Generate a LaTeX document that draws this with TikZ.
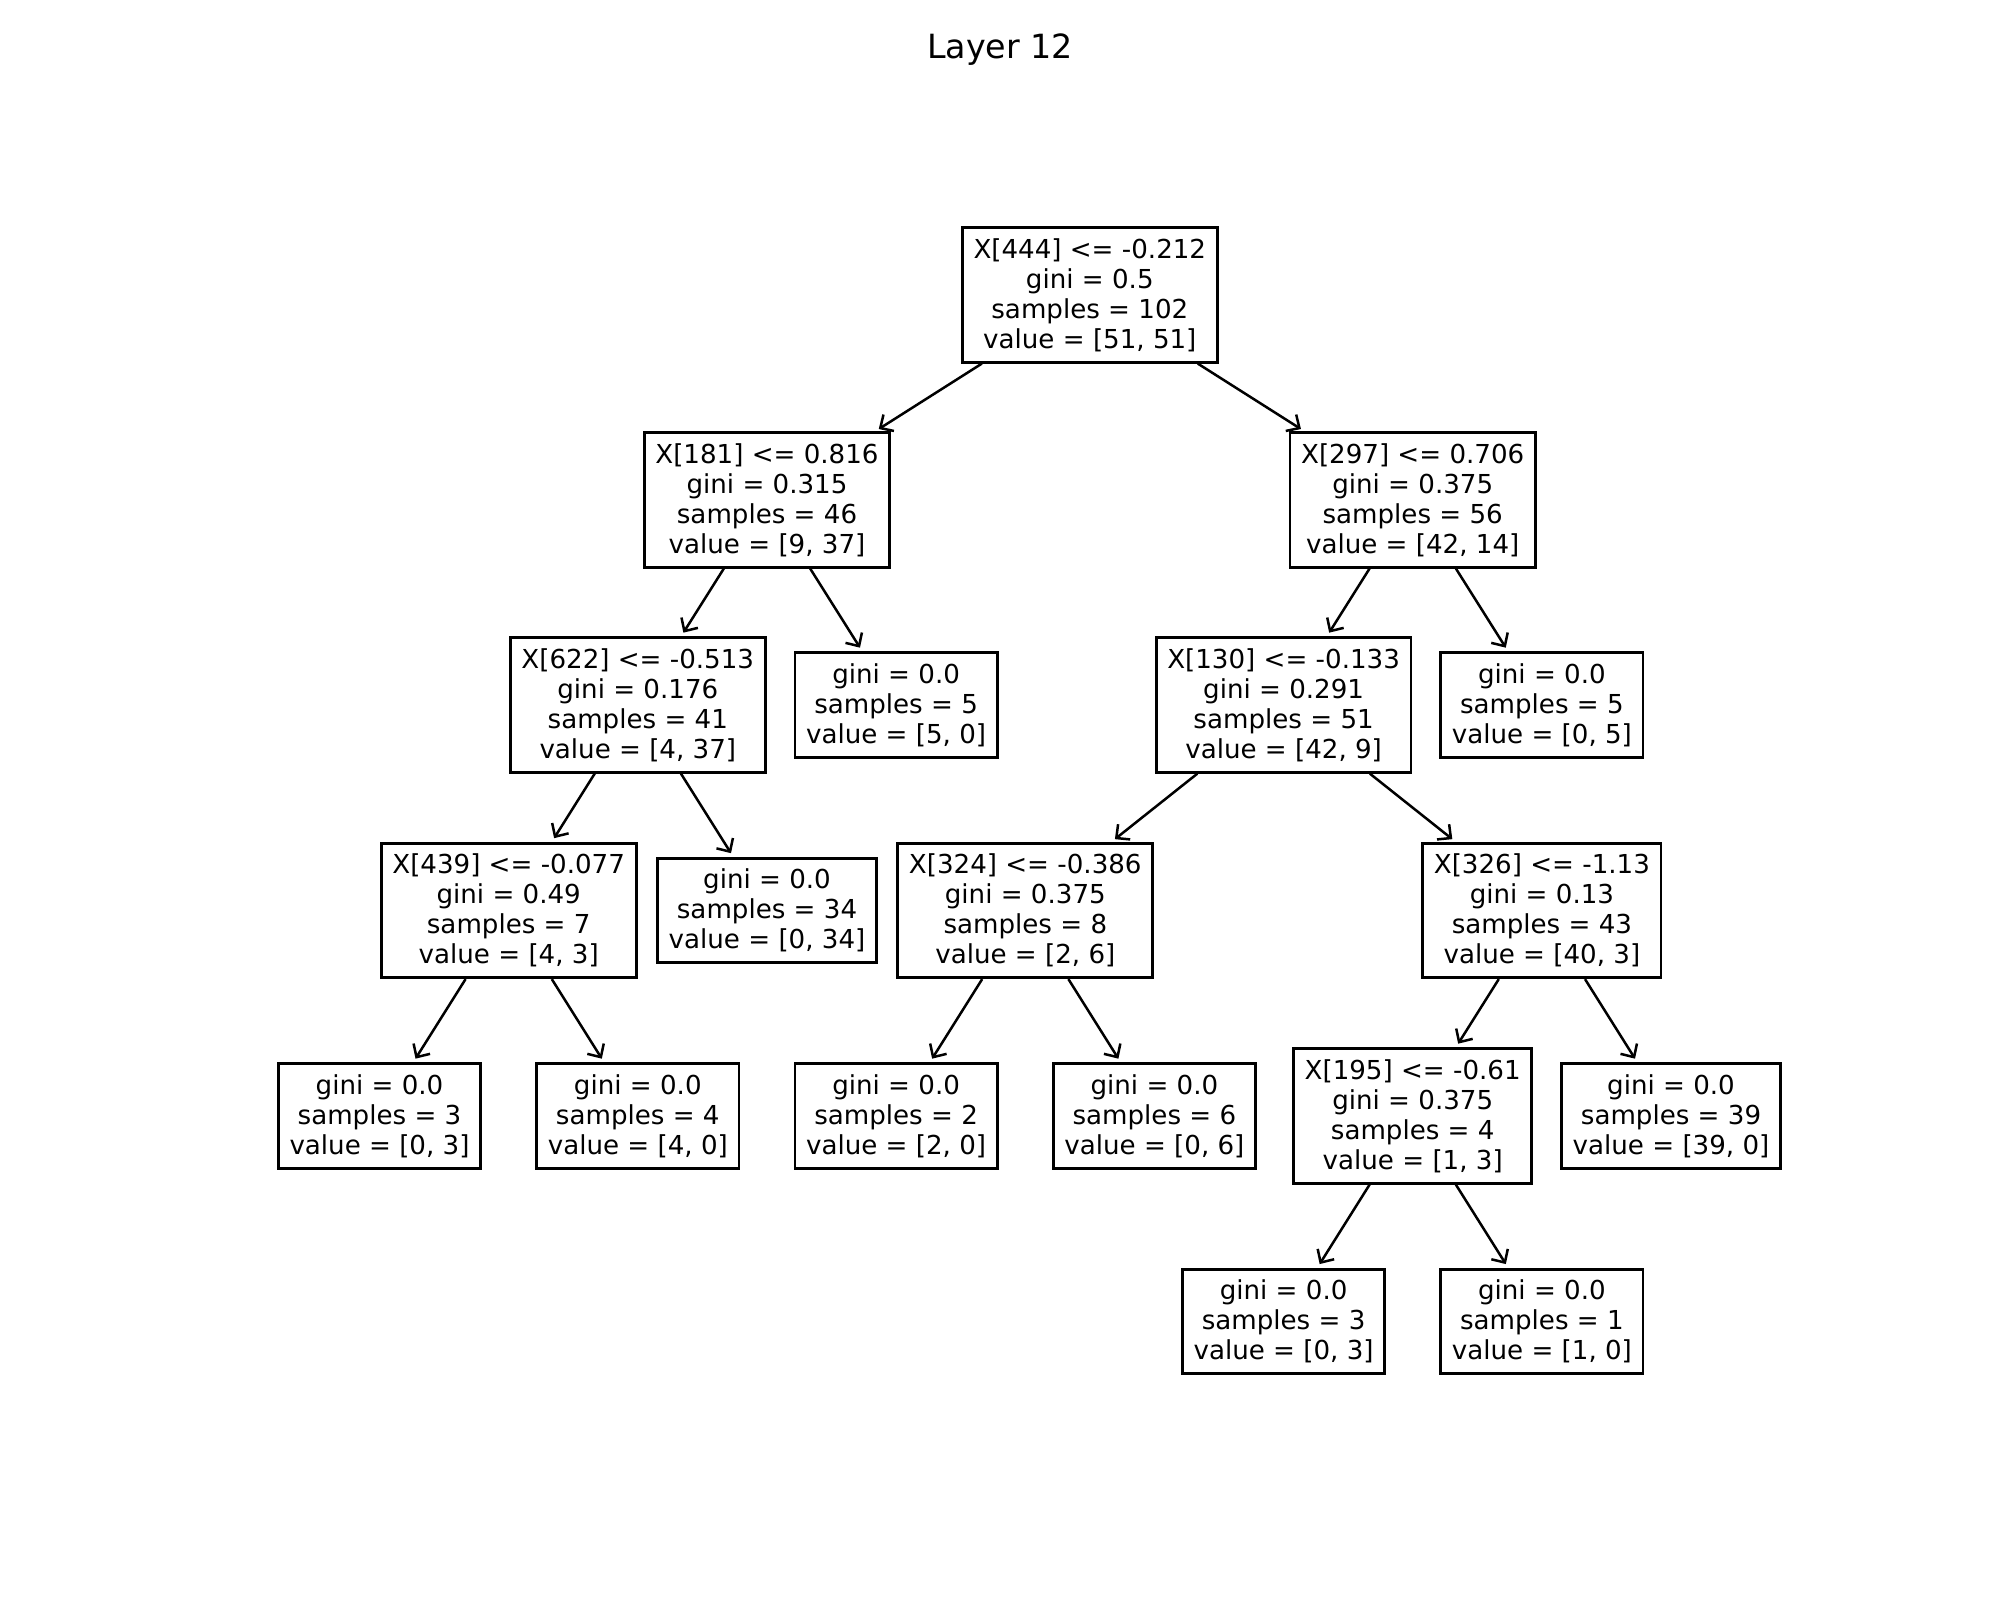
\documentclass[tikz,border=0pt]{standalone}
\usepackage{fontspec}
\setmainfont{DejaVu Sans}
\usetikzlibrary{arrows.meta}

\begin{document}
\begin{tikzpicture}[x=0.36pt,y=-0.36pt,
  tnode/.style={draw=black, line width=1pt, fill=white, align=center,
    font=\fontsize{9.4}{10.8}\selectfont, inner xsep=4pt, inner ysep=3.8pt},
  edge/.style={line width=0.9pt, -{Straight Barb[length=3.6pt,width=7pt,line width=0.9pt]},
    shorten >=1.6pt}]
\useasboundingbox (0,0) rectangle (2000,1600);

\node[font=\fontsize{12}{14}\selectfont, anchor=base] (title) at (1000,58) {Layer 12};

% decision nodes
\node[tnode] (r)  at (1089.8,295)  {X[444] <= -0.212\\gini = 0.5\\samples = 102\\value = [51, 51]};
\node[tnode] (a)  at (767.0,500)   {X[181] <= 0.816\\gini = 0.315\\samples = 46\\value = [9, 37]};
\node[tnode] (b)  at (1412.7,500)  {X[297] <= 0.706\\gini = 0.375\\samples = 56\\value = [42, 14]};
\node[tnode] (c)  at (637.8,705)   {X[622] <= -0.513\\gini = 0.176\\samples = 41\\value = [4, 37]};
\node[tnode] (d)  at (1283.6,705)  {X[130] <= -0.133\\gini = 0.291\\samples = 51\\value = [42, 9]};
\node[tnode] (e)  at (508.7,910.5) {X[439] <= -0.077\\gini = 0.49\\samples = 7\\value = [4, 3]};
\node[tnode] (f)  at (1025.3,910.5){X[324] <= -0.386\\gini = 0.375\\samples = 8\\value = [2, 6]};
\node[tnode] (g)  at (1541.9,910.5){X[326] <= -1.13\\gini = 0.13\\samples = 43\\value = [40, 3]};
\node[tnode] (h)  at (1412.7,1116) {X[195] <= -0.61\\gini = 0.375\\samples = 4\\value = [1, 3]};

% leaves
\node[tnode] (l1)  at (896.1,705)   {gini = 0.0\\samples = 5\\value = [5, 0]};
\node[tnode] (l2)  at (1541.9,705)  {gini = 0.0\\samples = 5\\value = [0, 5]};
\node[tnode] (l3)  at (767.0,910.5) {gini = 0.0\\samples = 34\\value = [0, 34]};
\node[tnode] (l4)  at (379.5,1116)  {gini = 0.0\\samples = 3\\value = [0, 3]};
\node[tnode] (l5)  at (637.8,1116)  {gini = 0.0\\samples = 4\\value = [4, 0]};
\node[tnode] (l6)  at (896.1,1116)  {gini = 0.0\\samples = 2\\value = [2, 0]};
\node[tnode] (l7)  at (1154.4,1116) {gini = 0.0\\samples = 6\\value = [0, 6]};
\node[tnode] (l8)  at (1671.0,1116) {gini = 0.0\\samples = 39\\value = [39, 0]};
\node[tnode] (l9)  at (1283.6,1321.4) {gini = 0.0\\samples = 3\\value = [0, 3]};
\node[tnode] (l10) at (1541.9,1321.4) {gini = 0.0\\samples = 1\\value = [1, 0]};

% edges
\foreach \p/\q in {r/a, r/b, a/c, a/l1, b/d, b/l2, c/e, c/l3, d/f, d/g,
                   e/l4, e/l5, f/l6, f/l7, g/h, g/l8, h/l9, h/l10}
  \draw[edge] (\p) -- (\q);
\end{tikzpicture}
\end{document}
